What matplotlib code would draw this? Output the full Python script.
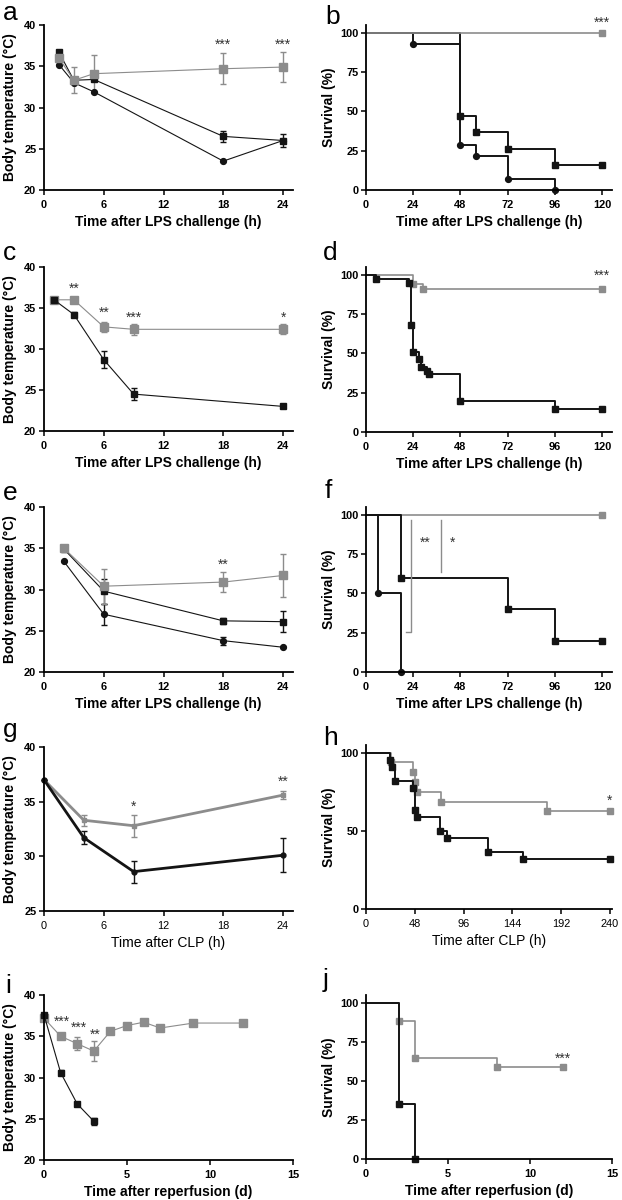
import matplotlib.pyplot as plt

plt.rcParams['font.family'] = ['Liberation Sans', 'DejaVu Sans']
plt.rcParams['font.weight'] = 'bold'

GRAY = '#8c8c8c'
BLACK = '#141414'
W, H = 622, 1200

# ---- data: temperature panels (x, mean, sem) ----
a_x = [1.5, 3, 5, 18, 24]
a_gray = [36.0, 33.3, 34.1, 34.7, 34.9]
a_gray_err = [0.3, 1.6, 2.3, 1.9, 1.8]
a_sq = [36.7, 33.3, 33.4, 26.5, 26.0]
a_sq_err = [0, 0, 0, 0.7, 0.8]
a_ci = [35.2, 33.0, 31.9, 23.5, 26.0]
a_ci_err = [0, 0, 0, 0, 0]

c_x = [1, 3, 6, 9, 24]
c_gray = [36.0, 36.0, 32.7, 32.4, 32.4]
c_gray_err = [0, 0, 0.6, 0.7, 0.6]
c_sq = [36.0, 34.2, 28.7, 24.5, 23.0]
c_sq_err = [0, 0.3, 1.0, 0.7, 0]

e_x = [2, 6, 18, 24]
e_gray = [35.0, 30.4, 30.9, 31.7]
e_gray_err = [0, 2.1, 1.2, 2.6]
e_sq = [34.9, 29.8, 26.2, 26.1]
e_sq_err = [0, 1.5, 0.4, 1.3]
e_ci = [33.4, 27.0, 23.8, 23.0]
e_ci_err = [0, 1.3, 0.5, 0]

g_x = [0, 4, 9, 24]
g_gray = [37.0, 33.3, 32.8, 35.6]
g_gray_err = [0, 0.5, 1.0, 0.4]
g_blk = [37.0, 31.7, 28.6, 30.1]
g_blk_err = [0, 0.6, 1.0, 1.55]

i_x_gray = [0, 1, 2, 3, 4, 5, 6, 7, 9, 12]
i_gray = [37.2, 35.0, 34.1, 33.2, 35.6, 36.3, 36.7, 36.0, 36.6, 36.6]
i_gray_err = [0, 0, 0.8, 1.2, 0, 0, 0, 0, 0, 0]
i_x_blk = [0, 1, 2, 3]
i_blk = [37.6, 30.6, 26.8, 24.7]
i_blk_err = [0, 0.3, 0, 0.4]

# ---- data: survival panels (event times, survival %) ----
b_gray_t, b_gray_s = [0, 120], [100, 100]
b_sq_t, b_sq_s = [0, 48, 56, 72, 96, 120], [100, 47.4, 36.8, 26.3, 15.8, 15.8]
b_ci_t, b_ci_s = [0, 24, 48, 56, 72, 96], [100, 92.9, 28.6, 21.4, 7.1, 0]

d_gray_t, d_gray_s = [0, 24, 29, 120], [100, 94.1, 91.2, 91.2]
d_blk_t = [0, 5, 22, 23, 24, 27, 28, 31, 32, 48, 96, 120]
d_blk_s = [100, 97.6, 95.1, 68.3, 51.2, 46.3, 41.5, 39.0, 36.6, 19.5, 14.6, 14.6]

f_gray_t, f_gray_s = [0, 120], [100, 100]
f_sq_t, f_sq_s = [0, 18, 72, 96, 120], [100, 60, 40, 20, 20]
f_ci_t, f_ci_s = [0, 6, 18], [100, 50, 0]

h_gray_t = [0, 25, 46, 48, 50, 74, 178, 240]
h_gray_s = [100, 93.8, 87.5, 81.3, 75.0, 68.8, 62.5, 62.5]
h_blk_t = [0, 24, 26, 29, 46, 48, 50, 73, 80, 120, 154, 240]
h_blk_s = [100, 95.5, 90.9, 81.8, 77.3, 63.6, 59.1, 50.0, 45.5, 36.4, 31.8, 31.8]

j_gray_t, j_gray_s = [0, 2, 3, 8, 12], [100, 88.2, 64.7, 58.8, 58.8]
j_blk_t, j_blk_s = [0, 2, 3], [100, 35.3, 0]

TEMP_LABEL = 'Body temperature (°C)'
SURV_LABEL = 'Survival (%)'
LPS = 'Time after LPS challenge (h)'
CLP = 'Time after CLP (h)'
REP = 'Time after reperfusion (d)'

fig = plt.figure(figsize=(W / 100, H / 100), dpi=100)


def add_ax(left, top, right, bottom):
    return fig.add_axes([left / W, 1 - bottom / H, (right - left) / W, (bottom - top) / H])


def style(ax, xlim, ylim, xticks, yticks, xlabel, ylabel, ylabelpad):
    ax.set_xlim(xlim)
    ax.set_ylim(ylim)
    ax.set_xticks(xticks)
    ax.set_yticks(yticks)
    for s in ['top', 'right']:
        ax.spines[s].set_visible(False)
    for s in ['left', 'bottom']:
        ax.spines[s].set_linewidth(1.3)
    ax.tick_params(axis='both', direction='out', length=3.5, width=1.1, labelsize=7.9)
    ax.tick_params(axis='x', pad=3.5)
    ax.tick_params(axis='y', pad=2)
    ax.set_xlabel(xlabel, fontsize=10, fontweight='bold', labelpad=3.5)
    ax.set_ylabel(ylabel, fontsize=10, fontweight='bold', labelpad=ylabelpad)


def temp(ax, x, y, err, marker, color, ms, lw=0.8):
    ax.errorbar(x, y, yerr=err, color=color, marker=marker, ms=ms, lw=lw,
                capsize=2.5, elinewidth=1, capthick=1, clip_on=False)


def surv(ax, t, s, marker, color, ms=4.2, lw=1.4):
    ax.step(t, s, where='post', color=color, lw=lw, clip_on=False)
    ax.plot(t[1:], s[1:], ls='none', marker=marker, ms=ms, color=color, clip_on=False)


def star(ax, x, y, txt):
    ax.text(x, y, txt, ha='center', va='center', fontsize=10, fontweight='normal',
            color='#333333', clip_on=False)


def letter(x, y, txt):
    fig.text(x / W, 1 - y / H, txt, fontsize=19, fontweight='normal', va='baseline')


L, R = (44, 293), (366, 612)

# a
ax = add_ax(L[0], 25, L[1], 190)
temp(ax, a_x, a_ci, a_ci_err, 'o', BLACK, 4.2)
temp(ax, a_x, a_sq, a_sq_err, 's', BLACK, 4.5)
temp(ax, a_x, a_gray, a_gray_err, 's', GRAY, 5.5)
style(ax, (0, 25), (20, 40), [0, 6, 12, 18, 24], [20, 25, 30, 35, 40], LPS, TEMP_LABEL, 5)
star(ax, 18, 37.6, '***')
star(ax, 24, 37.6, '***')

# b
ax = add_ax(R[0], 25, R[1], 190)
surv(ax, b_ci_t, b_ci_s, 'o', BLACK)
surv(ax, b_sq_t, b_sq_s, 's', BLACK)
surv(ax, b_gray_t, b_gray_s, 's', GRAY, lw=1.2)
style(ax, (0, 125), (0, 105), [0, 24, 48, 72, 96, 120], [0, 25, 50, 75, 100], LPS, SURV_LABEL, 3)
star(ax, 120, 106.5, '***')

# c
ax = add_ax(L[0], 267, L[1], 431)
temp(ax, c_x, c_gray, c_gray_err, 's', GRAY, 5.5)
temp(ax, c_x, c_sq, c_sq_err, 's', BLACK, 4.5)
style(ax, (0, 25), (20, 40), [0, 6, 12, 18, 24], [20, 25, 30, 35, 40], LPS, TEMP_LABEL, 5)
star(ax, 3, 37.4, '**')
star(ax, 6, 34.4, '**')
star(ax, 9, 33.8, '***')
star(ax, 24, 33.8, '*')

# d
ax = add_ax(R[0], 267, R[1], 432)
surv(ax, d_gray_t, d_gray_s, 's', GRAY, lw=1.2)
surv(ax, d_blk_t, d_blk_s, 's', BLACK)
style(ax, (0, 125), (0, 105), [0, 24, 48, 72, 96, 120], [0, 25, 50, 75, 100], LPS, SURV_LABEL, 3)
star(ax, 120, 99.5, '***')

# e
ax = add_ax(L[0], 507, L[1], 672)
temp(ax, e_x, e_ci, e_ci_err, 'o', BLACK, 4.2)
temp(ax, e_x, e_sq, e_sq_err, 's', BLACK, 4.5)
temp(ax, e_x, e_gray, e_gray_err, 's', GRAY, 5.5)
style(ax, (0, 25), (20, 40), [0, 6, 12, 18, 24], [20, 25, 30, 35, 40], LPS, TEMP_LABEL, 5)
star(ax, 18, 33.0, '**')

# f
ax = add_ax(R[0], 507, R[1], 672)
surv(ax, f_gray_t, f_gray_s, 's', GRAY, lw=1.2)
surv(ax, f_ci_t, f_ci_s, 'o', BLACK)
surv(ax, f_sq_t, f_sq_s, 's', BLACK)
style(ax, (0, 125), (0, 105), [0, 24, 48, 72, 96, 120], [0, 25, 50, 75, 100], LPS, SURV_LABEL, 3)
ax.plot([20.3, 23, 23], [25.4, 25.4, 97], color=GRAY, lw=1)
ax.plot([38, 38], [63.6, 97], color=GRAY, lw=1)
star(ax, 30, 82, '**')
star(ax, 44, 82, '*')

# g
ax = add_ax(L[0], 747, L[1], 911)
temp(ax, g_x, g_gray, g_gray_err, 's', GRAY, 3.5, lw=2)
temp(ax, g_x, g_blk, g_blk_err, 'o', BLACK, 3.5, lw=2)
style(ax, (0, 25), (25, 40), [0, 6, 12, 18, 24], [25, 30, 35, 40], CLP, TEMP_LABEL, 5)
for t in ax.get_xticklabels():
    t.set_fontweight('normal')
ax.xaxis.label.set_fontweight('normal')
star(ax, 9, 34.5, '*')
star(ax, 24, 36.8, '**')

# h
ax = add_ax(R[0], 745, R[1], 909)
surv(ax, h_gray_t, h_gray_s, 's', GRAY, lw=1.2)
surv(ax, h_blk_t, h_blk_s, 's', BLACK)
style(ax, (0, 242), (0, 105), [0, 48, 96, 144, 192, 240], [0, 50, 100], CLP, SURV_LABEL, 3)
for t in ax.get_xticklabels():
    t.set_fontweight('normal')
ax.xaxis.label.set_fontweight('normal')
star(ax, 240, 69.5, '*')

# i
ax = add_ax(L[0], 995, L[1], 1160)
temp(ax, i_x_gray, i_gray, i_gray_err, 's', GRAY, 5.5)
temp(ax, i_x_blk, i_blk, i_blk_err, 's', BLACK, 5)
style(ax, (0, 15), (20, 40), [0, 5, 10, 15], [20, 25, 30, 35, 40], REP, TEMP_LABEL, 5)
star(ax, 1.07, 36.8, '***')
star(ax, 2.1, 36.0, '***')
star(ax, 3.1, 35.2, '**')

# j
ax = add_ax(R[0], 995, R[1], 1159)
surv(ax, j_gray_t, j_gray_s, 's', GRAY, lw=1.2)
surv(ax, j_blk_t, j_blk_s, 's', BLACK)
style(ax, (0, 15), (0, 105), [0, 5, 10, 15], [0, 25, 50, 75, 100], REP, SURV_LABEL, 3)
star(ax, 12, 64, '***')

for x, y, s in [(3, 20, 'a'), (325, 24, 'b'), (3, 260, 'c'), (323, 260, 'd'),
                (3, 500, 'e'), (325, 498, 'f'), (3, 737, 'g'), (323, 745, 'h'),
                (5, 993, 'i'), (323, 987, 'j')]:
    letter(x, y, s)

fig.savefig('out.png', dpi=100)
